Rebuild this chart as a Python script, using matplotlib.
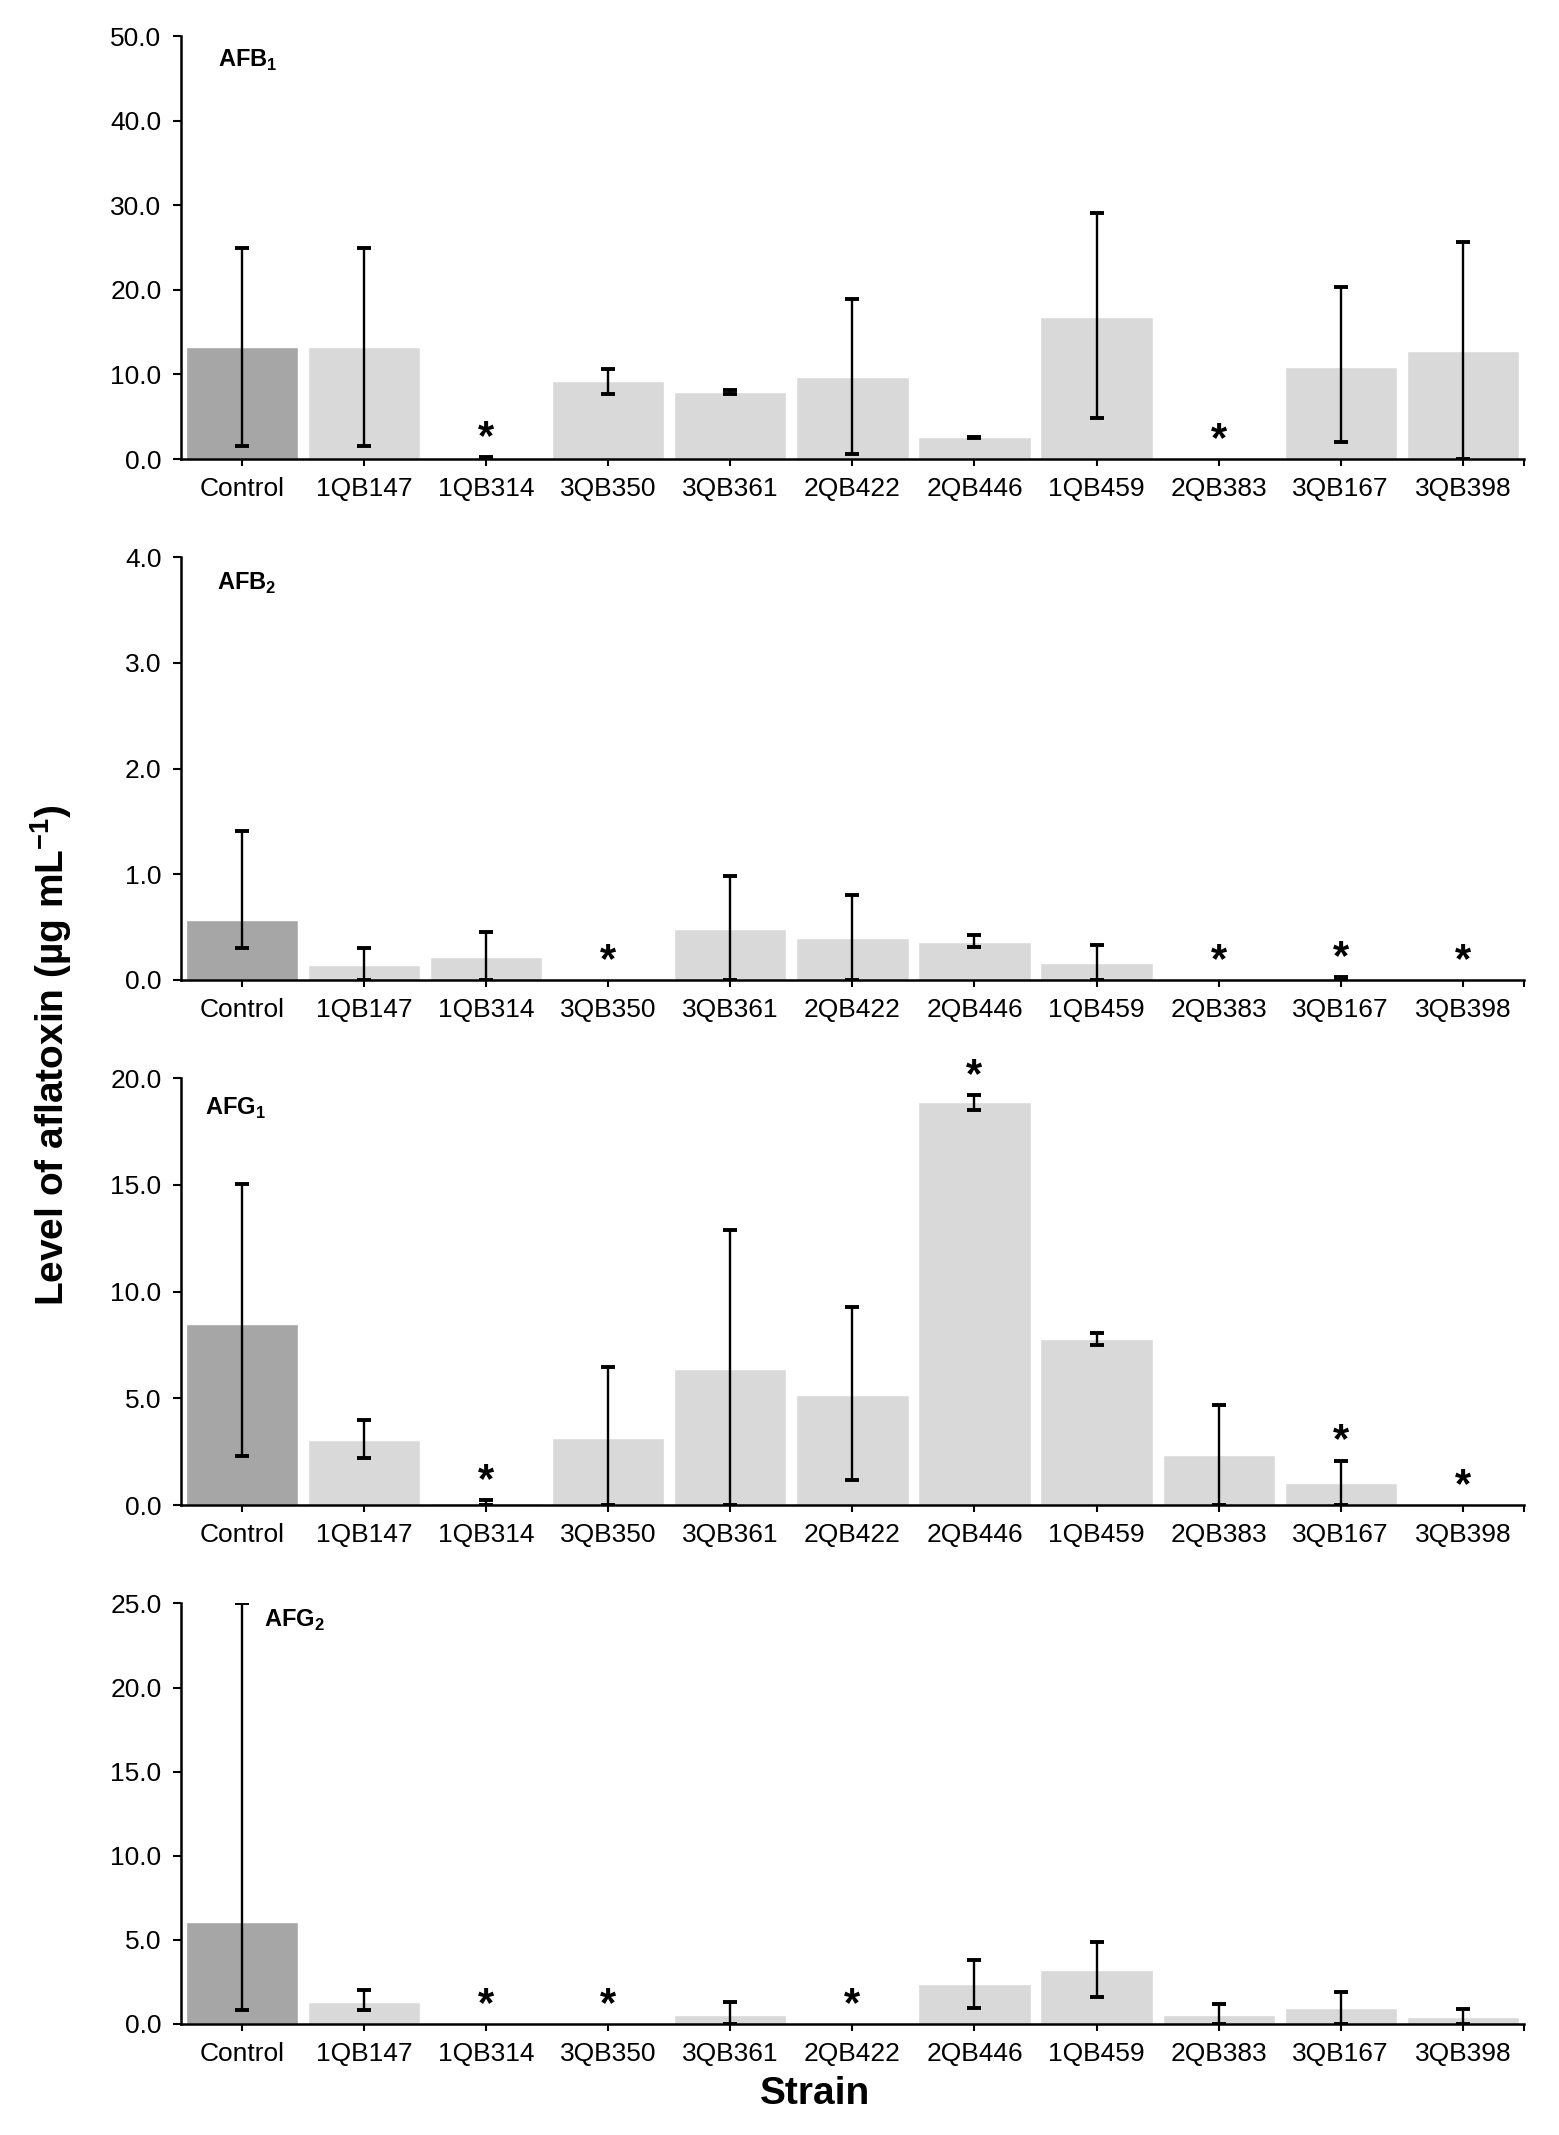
import matplotlib
matplotlib.use("Agg")
import matplotlib.pyplot as plt
import numpy as np

plt.rcParams['font.family'] = ['Liberation Sans', 'DejaVu Sans']
plt.rcParams['mathtext.fontset'] = 'custom'
plt.rcParams['mathtext.rm'] = 'Liberation Sans'
plt.rcParams['mathtext.bf'] = 'Liberation Sans:bold'

strains = ['Control', '1QB147', '1QB314', '3QB350', '3QB361', '2QB422',
           '2QB446', '1QB459', '2QB383', '3QB167', '3QB398']

# AFB1
afb1_mean = [13.27, 13.27, 0.05, 9.17, 7.91, 9.72, 2.56, 16.77, 0.0, 10.9, 12.8]
afb1_up = [11.73, 11.73, 0.15, 1.53, 0.25, 9.2, 0.1, 12.3, 0.0, 9.5, 12.9]
afb1_lo = [11.7, 11.7, 0.05, 1.53, 0.25, 9.1, 0.1, 11.9, 0.0, 8.9, 12.8]
afb1_star = [2, 8]

# AFB2
afb2_mean = [0.57, 0.14, 0.22, 0.0, 0.48, 0.40, 0.36, 0.16, 0.0, 0.005, 0.0]
afb2_up = [0.84, 0.16, 0.23, 0.0, 0.50, 0.40, 0.07, 0.17, 0.0, 0.02, 0.0]
afb2_lo = [0.27, 0.14, 0.22, 0.0, 0.48, 0.40, 0.05, 0.16, 0.0, 0.005, 0.0]
afb2_star = [3, 8, 9, 10]

# AFG1
afg1_mean = [8.48, 3.05, 0.1, 3.15, 6.37, 5.16, 18.87, 7.8, 2.34, 1.05, 0.0]
afg1_up = [6.58, 0.95, 0.13, 3.3, 6.5, 4.14, 0.33, 0.26, 2.34, 1.03, 0.0]
afg1_lo = [6.19, 0.85, 0.1, 3.15, 6.37, 4.0, 0.37, 0.3, 2.34, 1.05, 0.0]
afg1_star = [2, 6, 9, 10]

# AFG2
afg2_mean = [6.08, 1.33, 0.0, 0.0, 0.54, 0.0, 2.35, 3.22, 0.54, 0.96, 0.44]
afg2_up = [18.92, 0.7, 0.0, 0.0, 0.77, 0.0, 1.46, 1.68, 0.64, 0.94, 0.43]
afg2_lo = [5.23, 0.48, 0.0, 0.0, 0.54, 0.0, 1.39, 1.59, 0.54, 0.96, 0.44]
afg2_star = [2, 3, 5]

panels = [
    (r'AFB$_\mathbf{1}$', afb1_mean, afb1_lo, afb1_up, afb1_star, 50, 10, (0.028, 0.943)),
    (r'AFB$_\mathbf{2}$', afb2_mean, afb2_lo, afb2_up, afb2_star, 4, 1, (0.027, 0.937)),
    (r'AFG$_\mathbf{1}$', afg1_mean, afg1_lo, afg1_up, afg1_star, 20, 5, (0.018, 0.93)),
    (r'AFG$_\mathbf{2}$', afg2_mean, afg2_lo, afg2_up, afg2_star, 25, 5, (0.062, 0.96)),
]
boxes = [(0.785, 0.198), (0.541, 0.198), (0.295, 0.200), (0.052, 0.197)]

fig = plt.figure(figsize=(15.59, 21.35), dpi=100)
x = np.arange(len(strains))
colors = ['#a6a6a6'] + ['#d9d9d9'] * (len(strains) - 1)

for (name, mean, lo, up, stars, ymax, step, lab), (b, h) in zip(panels, boxes):
    ax = fig.add_axes([0.116, b, 0.8615, h])
    mean = np.array(mean); lo = np.array(lo); up = np.array(up)
    ax.bar(x, mean, width=0.92, color=colors, edgecolor='white', linewidth=1)
    m = up > 0
    ax.errorbar(x[m], mean[m], yerr=[lo[m], up[m]], fmt='none', ecolor='black',
                elinewidth=1.7, capsize=5, capthick=2.8, clip_on=True)
    for i in stars:
        top = max(mean[i] + up[i], 0)
        ax.annotate('*', (x[i], top), xytext=(0, 6), textcoords='offset points',
                    ha='center', va='baseline', fontsize=30, fontweight='bold')
    ax.set_xlim(-0.5, len(strains) - 0.5)
    ax.set_ylim(0, ymax)
    ax.set_yticks(np.arange(0, ymax + step / 2, step))
    ax.set_yticklabels(['%.1f' % v for v in np.arange(0, ymax + step / 2, step)])
    ax.set_xticks(x)
    ax.set_xticklabels(strains)
    ax.set_xticks([len(strains) - 0.5], minor=True)
    ax.spines['top'].set_visible(False)
    ax.spines['right'].set_visible(False)
    ax.spines['left'].set_linewidth(1.8)
    ax.spines['bottom'].set_linewidth(1.8)
    ax.tick_params(axis='x', which='both', direction='out', length=5, width=1.5,
                   labelsize=19, pad=8)
    ax.tick_params(axis='y', direction='out', length=6, width=1.5, labelsize=19, pad=8)
    ax.text(lab[0], lab[1], name, transform=ax.transAxes, fontsize=17,
            fontweight='bold', ha='left', va='center')

fig.text(0.033, 0.506, r'Level of aflatoxin (µg mL$^{\mathbf{-1}}$)', rotation=90,
         fontsize=28, fontweight='bold', ha='center', va='center')
fig.text(0.523, 0.0194, 'Strain', fontsize=28, fontweight='bold', ha='center', va='center')

fig.savefig('out.png', dpi=100, facecolor='white')
